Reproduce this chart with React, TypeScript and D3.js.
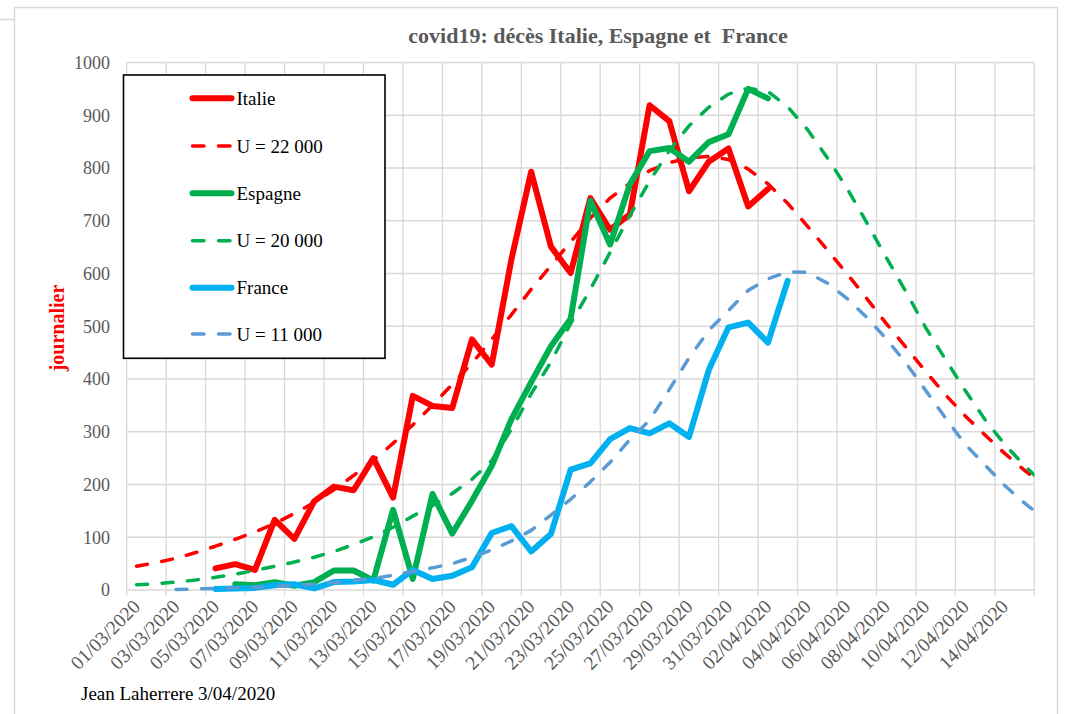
import React from "react";
import * as d3 from "d3";

// ---------- data ----------
const categories = [
  "01/03", "02/03", "03/03", "04/03", "05/03", "06/03", "07/03", "08/03", "09/03", "10/03",
  "11/03", "12/03", "13/03", "14/03", "15/03", "16/03", "17/03", "18/03", "19/03", "20/03",
  "21/03", "22/03", "23/03", "24/03", "25/03", "26/03", "27/03", "28/03", "29/03", "30/03",
  "31/03", "01/04", "02/04", "03/04", "04/04", "05/04", "06/04", "07/04", "08/04", "09/04",
  "10/04", "11/04", "12/04", "13/04", "14/04", "15/04", "16/04",
];

const xTickLabels = [
  "01/03/2020", "03/03/2020", "05/03/2020", "07/03/2020", "09/03/2020", "11/03/2020",
  "13/03/2020", "15/03/2020", "17/03/2020", "19/03/2020", "21/03/2020", "23/03/2020",
  "25/03/2020", "27/03/2020", "29/03/2020", "31/03/2020", "02/04/2020", "04/04/2020",
  "06/04/2020", "08/04/2020", "10/04/2020", "12/04/2020", "14/04/2020",
];

const yTicks = [0, 100, 200, 300, 400, 500, 600, 700, 800, 900, 1000];

const italieStart = "05/03";
const italie = [41, 49, 38, 133, 97, 168, 196, 189, 250, 175, 368, 349, 345, 475, 427, 627, 793, 651, 601, 743, 683, 712, 919, 889, 756, 812, 837, 727, 760];

const fitItalieStart = "01/03";
const fitItalie = [45, 52, 60, 71, 83, 96, 110, 126, 145, 166, 190, 217, 246, 278, 313, 350, 390, 430, 475, 522, 570, 615, 660, 705, 743, 771, 795, 810, 819, 822, 816, 798, 770, 733, 690, 645, 600, 553, 505, 460, 414, 370, 330, 294, 259, 227, 198];

const espagneStart = "06/03";
const espagne = [11, 9, 15, 8, 15, 37, 37, 18, 152, 21, 182, 107, 169, 235, 324, 394, 462, 514, 738, 655, 769, 832, 838, 812, 849, 864, 950, 932];

const fitEspagneStart = "01/03";
const fitEspagne = [10, 12, 15, 19, 24, 30, 37, 45, 53, 62, 73, 86, 101, 119, 140, 160, 183, 210, 245, 305, 372, 432, 505, 570, 640, 710, 775, 833, 880, 915, 940, 951, 945, 916, 873, 820, 762, 697, 630, 565, 497, 437, 378, 323, 276, 236, 200];

const franceStart = "05/03";
const france = [2, 3, 4, 9, 11, 3, 15, 16, 19, 10, 38, 21, 27, 43, 108, 121, 73, 106, 228, 240, 286, 307, 297, 316, 290, 417, 498, 507, 469, 586];

const fitFranceStart = "03/03";
const fitFrance = [1, 2, 3, 4, 5, 7, 9, 11, 14, 18, 22, 28, 35, 42, 50, 62, 76, 93, 113, 142, 172, 205, 242, 285, 322, 380, 440, 492, 530, 568, 590, 603, 602, 582, 553, 517, 476, 430, 378, 326, 276, 237, 198, 165, 135];

type Series = {
  name: string;
  start: string;
  values: number[];
  color: string;
  dashed: boolean;
};

const seriesList: Series[] = [
  { name: "Italie", start: italieStart, values: italie, color: "#FF0000", dashed: false },
  { name: "U = 22 000", start: fitItalieStart, values: fitItalie, color: "#FF0000", dashed: true },
  { name: "Espagne", start: espagneStart, values: espagne, color: "#00B050", dashed: false },
  { name: "U = 20 000", start: fitEspagneStart, values: fitEspagne, color: "#00B050", dashed: true },
  { name: "France", start: franceStart, values: france, color: "#00B0F0", dashed: false },
  { name: "U = 11 000", start: fitFranceStart, values: fitFrance, color: "#5B9BD5", dashed: true },
];

// ---------- layout ----------
const W = 1065;
const H = 714;
const plot = { left: 126.7, right: 1034.3, top: 62.5, bottom: 590 };
const SERIF = "'Liberation Serif', 'Times New Roman', 'DejaVu Serif', serif";
const GRID = "#d9d9d9";
const TXT = "#595959";

export default function App() {
  const nCells = categories.length - 1; // 46 day cells
  const x = d3.scaleLinear().domain([0, nCells]).range([plot.left, plot.right]);
  const y = d3.scaleLinear().domain([0, 1000]).range([plot.bottom, plot.top]);

  const line = d3
    .line<number>()
    .x((d: any) => d[0])
    .y((d: any) => d[1]);

  const seriesPath = (s: Series) => {
    const i0 = categories.indexOf(s.start);
    const pts = s.values.map((v, i) => [x(i0 + i + 0.5), y(v)]);
    return (line as any)(pts);
  };

  const tickIdx = d3.range(0, categories.length, 2); // grid every 2 days

  const legendRows = [98.3, 146, 193.3, 240.7, 287.7, 334];

  return (
    <svg
      width={W}
      height={H}
      style={{ position: "absolute", left: 0, top: 0, background: "#fff" }}
      fontFamily={SERIF}
    >
      <defs>
        <clipPath id="plotclip">
          <rect x={plot.left} y={plot.top - 10} width={plot.right - plot.left} height={plot.bottom - plot.top + 20} />
        </clipPath>
      </defs>
      <rect x={0} y={0} width={W} height={H} fill="#fff" />
      <line x1={0} y1={19.5} x2={14.5} y2={19.5} stroke={GRID} strokeWidth={1.5} />
      <rect x={14.5} y={7.5} width={1043} height={730} fill="#fff" stroke={GRID} strokeWidth={1.5} />

      {/* title */}
      <text
        x={598}
        y={43}
        textAnchor="middle"
        fontSize={22}
        fontWeight="bold"
        fill={TXT}
        style={{ whiteSpace: "pre" }}
      >
        {"covid19: décès Italie, Espagne et  France"}
      </text>

      {/* horizontal gridlines */}
      {yTicks.map((t) => (
        <line key={"h" + t} x1={plot.left} x2={plot.right} y1={y(t)} y2={y(t)} stroke={GRID} strokeWidth={1.3} />
      ))}
      {/* vertical gridlines */}
      {tickIdx.map((k) => (
        <line key={"v" + k} x1={x(k)} x2={x(k)} y1={plot.top} y2={plot.bottom} stroke={GRID} strokeWidth={1.3} />
      ))}
      {/* x axis ticks */}
      {tickIdx.map((k) => (
        <line key={"t" + k} x1={x(k)} x2={x(k)} y1={plot.bottom} y2={plot.bottom + 6} stroke={GRID} strokeWidth={1.3} />
      ))}

      {/* y tick labels */}
      {yTicks.map((t) => (
        <text key={"yl" + t} x={110} y={y(t)} dy="0.35em" textAnchor="end" fontSize={18} fill={TXT}>
          {t}
        </text>
      ))}

      {/* x tick labels */}
      {xTickLabels.map((lab, i) => {
        const cx = x(i * 2 + 0.5);
        const cy = 603;
        return (
          <text
            key={"xl" + i}
            x={cx}
            y={cy}
            dy="0.35em"
            textAnchor="end"
            fontSize={19.5}
            fill={TXT}
            transform={`rotate(-45 ${cx} ${cy})`}
          >
            {lab}
          </text>
        );
      })}

      {/* y title */}
      <text
        x={0}
        y={0}
        transform={`translate(64 ${328}) rotate(-90)`}
        textAnchor="middle"
        fontSize={20}
        fontWeight="bold"
        fill="#FF0000"
      >
        journalier
      </text>

      {/* series */}
      <g clipPath="url(#plotclip)">
        {seriesList.map((s) => (
          <path
            key={s.name}
            d={seriesPath(s) || ""}
            fill="none"
            stroke={s.color}
            strokeWidth={s.dashed ? 3.5 : 6}
            strokeDasharray={s.dashed ? "11 14.5" : undefined}
            strokeLinecap="round"
            strokeLinejoin="round"
          />
        ))}
      </g>

      {/* legend */}
      <rect x={123.5} y={75} width={261.5} height={283.3} fill="#fff" stroke="#000" strokeWidth={1.6} />
      {seriesList.map((s, i) => (
        <g key={"lg" + i}>
          <line
            x1={192.5}
            x2={231.5}
            y1={legendRows[i]}
            y2={legendRows[i]}
            stroke={s.color}
            strokeWidth={s.dashed ? 3.5 : 6}
            strokeDasharray={s.dashed ? "11.5 14.5" : undefined}
            strokeLinecap="round"
          />
          <text x={236.5} y={legendRows[i]} dy="0.35em" fontSize={19} fill="#000">
            {s.name}
          </text>
        </g>
      ))}

      {/* footnote */}
      <text x={81} y={700} fontSize={19} fill="#000">
        Jean Laherrere 3/04/2020
      </text>
    </svg>
  );
}
